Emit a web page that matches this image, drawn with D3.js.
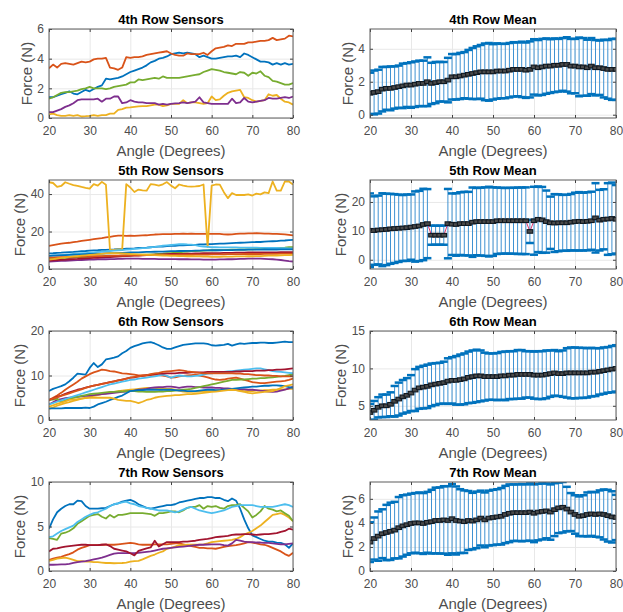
<!DOCTYPE html>
<html>
<head>
<meta charset="utf-8">
<script src="https://cdn.jsdelivr.net/npm/d3@7"></script>
<style>
  body { margin: 0; background: #fff; }
  svg { display: block; font-family: "Liberation Sans", Arial, Helvetica, sans-serif; }
</style>
</head>
<body>
<svg id="chart" width="623" height="612"></svg>
<script>
// x 값 (각도, 1도 간격)
const angles = d3.range(20, 81);
const xTicks = [20, 30, 40, 50, 60, 70, 80];
const matlabColors = ["#0072BD", "#D95319", "#EDB120", "#7E2F8E", "#77AC30", "#4DBEEE", "#A2142F"];

// ---- 4th row sensors
const s4Blue = [1.40,1.40,1.50,1.60,1.70,1.80,1.65,1.60,1.75,1.90, 1.80,1.95,2.10,2.20,2.65,2.60,2.65,2.70,2.80,2.95, 3.10,3.20,3.30,3.40,3.55,3.75,3.85,4.00,4.05,4.15, 4.30,4.35,4.40,4.35,4.40,4.35,4.30,4.10,4.20,4.10, 4.00,4.00,4.05,4.10,4.15,4.15,4.20,4.10,4.35,4.25, 4.10,3.95,3.80,3.80,3.75,3.60,3.70,3.60,3.70,3.60, 3.65];
const s4Orange = [3.35,3.60,3.40,3.65,3.70,3.65,3.60,3.70,3.80,3.75, 3.80,3.95,4.00,4.00,4.05,3.40,3.35,3.25,3.40,4.10, 4.05,4.10,4.10,4.15,4.25,4.30,4.35,4.40,4.45,4.50, 4.35,4.25,4.20,4.20,4.35,4.30,4.30,4.30,4.40,4.25, 4.50,4.70,4.75,4.80,4.90,4.85,5.00,5.00,5.00,5.10, 5.10,5.15,5.20,5.20,5.25,5.40,5.25,5.30,5.35,5.55, 5.50];
const s4Yellow = [0.25,0.30,0.20,0.15,0.15,0.20,0.15,0.20,0.10,0.12, 0.15,0.20,0.15,0.20,0.20,0.30,0.30,0.55,0.60,0.70, 0.72,0.75,0.78,0.80,0.80,0.85,0.90,0.90,0.80,0.85, 0.95,0.95,0.95,1.20,1.00,1.05,1.05,1.00,0.95,1.00, 1.45,1.20,1.25,1.50,1.70,1.80,1.85,1.90,1.40,1.35, 1.20,1.10,1.15,1.20,1.60,1.50,1.55,1.30,1.10,1.05, 0.90];
const s4Purple = [0.40,0.40,0.50,0.60,0.75,0.85,1.00,1.20,1.25,1.25, 1.25,1.25,1.30,1.10,1.30,1.30,1.45,1.45,1.00,1.05, 1.20,1.10,1.05,1.05,1.00,1.00,1.00,0.90,0.95,0.90, 0.95,0.98,1.00,1.05,1.00,1.05,1.10,1.40,1.05,1.00, 0.95,0.95,0.95,0.95,0.95,1.30,1.00,1.05,1.35,1.10, 1.05,1.10,1.15,1.20,1.35,1.30,1.30,1.35,1.40,1.35, 1.45];
const s4Green = [1.30,1.40,1.55,1.70,1.75,1.75,1.80,1.85,1.95,2.00, 2.10,2.00,2.00,2.00,1.95,2.00,2.10,2.15,2.20,2.25, 2.40,2.40,2.60,2.55,2.60,2.65,2.70,2.65,2.80,2.70, 2.70,2.70,2.70,2.75,2.80,2.85,2.90,2.95,3.10,3.20, 3.30,3.25,3.20,3.10,3.05,3.00,2.95,3.10,3.05,2.85, 3.05,3.00,3.15,2.85,2.75,2.50,2.45,2.35,2.25,2.25, 2.35];

// ---- 5th row sensors
const s5Blue = [8.3,8.4,8.6,8.7,8.9,9.0,9.1,9.3,9.5,9.6, 9.8,9.9,10.0,10.2,10.2,10.3,10.4,10.6,10.6,10.8, 10.9,11.0,11.2,11.3,11.4,11.6,11.8,11.9,12.0,12.2, 12.3,12.4,12.6,12.6,12.7,12.8,12.9,13.1,13.1,13.2, 13.3,13.4,13.5,13.5,13.7,13.8,13.9,14.0,14.1,14.2, 14.3,14.4,14.4,14.6,14.7,14.8,14.9,15.1,15.2,15.4, 15.5];
const s5Orange = [12.3,12.7,13.1,13.5,13.8,14.0,14.3,14.6,15.0,15.3, 15.6,15.9,16.2,16.5,16.9,17.2,17.6,17.8,17.8,17.7, 17.8,17.7,17.8,17.9,18.0,18.2,18.4,18.5,18.6,18.6, 18.6,18.7,18.8,18.9,18.8,18.9,18.8,18.7,18.8,18.7, 18.8,18.8,18.7,18.5,18.4,18.5,18.8,18.9,18.9,19.0, 19.0,19.1,19.0,18.9,18.9,18.8,18.7,18.6,18.5,18.2, 17.9];
const s5Yellow = [46.3,45.9,43.8,44.3,46.3,45.5,44.8,44.4,43.8,43.3, 42.9,45.3,44.5,46.5,45.0,10.0,10.2,10.4,10.5,45.3, 43.5,41.1,42.4,42.0,41.8,45.3,45.0,44.5,45.2,46.4, 44.5,43.1,45.1,44.5,44.1,44.0,44.1,44.3,45.1,11.8, 44.5,45.1,45.0,41.0,37.8,40.5,39.5,39.6,39.5,39.8, 39.2,40.2,39.8,40.9,40.5,46.7,41.8,41.8,46.7,46.7, 45.1];
const s5Purple = [4.0,4.1,4.2,4.3,4.4,4.5,4.6,4.7,4.8,4.9, 5.0,5.0,5.1,5.2,5.2,5.3,5.3,5.4,5.4,5.5, 5.5,5.5,5.5,5.4,5.4,5.4,5.4,5.3,5.3,5.3, 5.3,5.3,5.2,5.2,5.2,5.1,5.1,5.1,5.0,5.0, 5.0,5.0,5.1,5.1,5.2,5.2,5.3,5.4,5.4,5.5, 5.5,5.5,5.5,5.4,5.3,5.2,5.0,4.8,4.5,4.2, 4.0];
const s5Green = [5.5,5.6,5.7,5.8,5.9,6.0,6.1,6.2,6.3,6.4, 6.5,6.6,6.6,6.7,6.8,6.9,7.0,7.0,7.1,7.2, 7.3,7.4,7.5,7.6,7.7,7.8,7.9,8.1,8.2,8.4, 8.5,8.7,8.9,9.1,9.3,9.5,9.6,9.7,9.8,9.9, 10.0,10.0,10.1,10.1,10.2,10.3,10.3,10.4,10.4,10.5, 10.5,10.6,10.7,10.8,10.9,11.0,11.2,11.3,11.4,11.6, 11.7];
const s5LightBlue = [7.0,7.2,7.3,7.5,7.6,7.8,8.0,8.2,8.4,8.5, 8.7,8.9,9.1,9.3,9.4,9.6,9.8,10.0,10.1,10.3, 10.5,10.7,10.9,11.1,11.3,11.6,11.8,12.1,12.4,12.6, 12.8,13.0,13.2,13.3,13.1,13.0,12.7,12.2,12.0,11.8, 11.6,11.6,11.5,11.5,11.5,11.5,11.5,11.4,11.4,11.4, 11.4,11.4,11.3,11.3,11.2,11.2,11.2,11.1,11.1,11.0, 11.0];
const s5DarkRed = [4.5,4.6,4.8,4.9,5.0,5.2,5.3,5.4,5.6,5.7, 5.8,5.9,6.0,6.2,6.3,6.4,6.5,6.6,6.8,6.9, 7.0,7.1,7.2,7.3,7.4,7.5,7.6,7.7,7.8,7.9, 8.0,8.0,8.1,8.1,8.2,8.2,8.3,8.3,8.4,8.4, 8.5,8.5,8.5,8.6,8.6,8.6,8.7,8.7,8.7,8.8, 8.8,8.8,8.8,8.9,8.9,8.9,8.9,9.0,9.0,9.0, 9.0];
const s5Blue2 = [7.0,7.1,7.2,7.3,7.4,7.5,7.6,7.7,7.8,7.9, 8.0,8.1,8.2,8.2,8.3,8.4,8.5,8.6,8.6,8.7, 8.8,8.9,8.9,9.0,9.1,9.1,9.2,9.3,9.3,9.4, 9.5,9.5,9.6,9.6,9.7,9.7,9.8,9.8,9.9,9.9, 10.0,10.0,10.0,10.1,10.1,10.1,10.2,10.2,10.2,10.3, 10.3,10.3,10.3,10.4,10.4,10.4,10.4,10.5,10.5,10.5, 10.5];
const s5Orange2 = [6.0,6.1,6.2,6.3,6.3,6.4,6.5,6.6,6.6,6.7, 6.8,6.8,6.9,6.9,7.0,7.0,7.1,7.1,7.2,7.2, 7.3,7.3,7.3,7.4,7.4,7.4,7.4,7.5,7.5,7.5, 7.5,7.5,7.6,7.6,7.6,7.6,7.7,7.7,7.7,7.7, 7.8,7.8,7.8,7.8,7.9,7.9,7.9,7.9,8.0,8.0, 8.0,8.0,8.0,8.1,8.1,8.1,8.1,8.2,8.2,8.2, 8.2];
const s5Yellow2 = [5.0,5.3,5.6,5.9,6.2,6.5,6.7,6.9,7.1,7.3, 7.5,7.7,7.9,8.1,8.3,8.5,8.4,8.4,8.3,8.2, 8.0,7.9,7.8,7.7,7.6,7.5,7.4,7.3,7.2,7.1, 7.0,7.0,6.9,6.9,6.8,6.8,6.7,6.7,6.6,6.6, 6.5,6.5,6.5,6.6,6.6,6.6,6.7,6.7,6.7,6.8, 6.8,6.9,6.9,7.0,7.1,7.1,7.2,7.3,7.4,7.4, 7.5];

// ---- 6th row sensors
const s6Blue = [6.5,7.0,7.3,7.6,8.0,8.7,9.5,10.4,10.3,10.2, 11.7,12.8,11.9,12.5,13.6,13.8,14.0,14.3,15.0,15.5, 16.2,16.6,16.9,17.2,17.4,17.5,17.2,16.8,16.3,16.0, 16.0,16.3,16.6,16.9,17.0,17.1,17.2,17.2,17.2,17.1, 16.8,16.7,16.8,16.9,17.1,16.7,17.0,17.2,17.1,17.2, 17.3,17.3,17.4,17.4,17.3,17.3,17.4,17.5,17.6,17.5, 17.5];
const s6Orange = [4.5,5.0,5.5,6.1,6.8,7.4,8.0,8.6,9.3,9.8, 10.3,10.7,11.0,11.3,11.2,11.0,10.9,10.7,10.5,10.4, 10.3,10.2,10.0,10.0,10.0,10.1,10.2,10.1,10.0,9.8, 9.5,9.6,9.8,9.9,10.0,10.1,10.2,10.0,9.8,9.6, 9.3,9.1,9.0,9.1,9.3,9.4,9.5,9.3,9.0,8.8, 8.5,8.4,8.3,8.3,8.4,8.5,8.6,8.7,8.8,9.0, 9.3];
const s6Yellow = [2.5,2.8,3.2,3.5,3.8,4.0,4.3,4.5,4.8,5.0, 5.2,5.4,5.6,5.8,6.0,6.2,6.3,6.5,6.6,6.7, 6.8,6.9,7.0,7.1,7.2,7.2,7.2,7.1,7.1,7.0, 7.0,6.8,6.6,6.4,6.3,6.3,6.4,6.4,6.5,6.5, 6.5,6.6,6.7,6.7,6.8,6.8,6.7,6.6,6.5,6.5, 6.5,6.6,6.6,6.7,6.7,6.8,6.8,6.9,6.9,7.0, 7.0];
const s6Purple = [3.5,4.0,4.5,4.7,4.9,5.0,5.1,5.2,5.3,5.4, 5.5,5.6,5.7,5.8,5.9,6.0,6.1,6.2,6.3,6.4, 6.5,6.6,6.8,6.9,7.0,7.2,7.3,7.4,7.4,7.5, 7.5,7.4,7.2,7.4,7.5,7.5,7.4,7.4,7.3,7.3, 7.3,7.2,7.2,7.1,7.1,7.0,7.0,6.9,6.9,6.8, 6.8,6.7,6.6,6.5,6.4,6.3,6.4,6.6,6.8,7.1, 7.5];
const s6Green = [4.5,4.6,4.8,4.0,4.4,4.8,5.0,5.2,5.4,5.6, 5.8,5.9,6.0,6.1,6.2,6.3,6.3,6.4,6.4,6.5, 6.5,6.5,6.4,6.4,6.3,6.3,6.3,6.4,6.4,6.5, 6.5,6.6,6.7,6.8,6.9,7.0,7.2,7.4,7.6,7.8, 8.0,8.2,8.4,8.6,8.8,9.0,9.0,9.1,9.1,9.2, 9.3,9.3,9.4,9.4,9.5,9.6,9.7,9.8,9.9,10.1, 10.3];
const s6LightBlue = [3.5,3.8,4.1,4.4,4.7,5.0,5.3,5.6,5.9,6.2, 6.5,6.8,7.1,7.4,7.7,8.0,8.2,8.4,8.6,8.8, 9.0,9.1,9.3,9.4,9.5,9.7,9.8,10.0,10.2,9.9, 9.5,9.8,10.0,9.9,9.8,9.8,9.9,10.0,10.2,10.4, 10.5,10.6,10.7,10.8,10.9,11.0,11.1,11.2,11.3,11.4, 11.5,11.6,11.6,11.4,11.2,11.0,10.9,10.8,10.7,10.6, 10.5];
const s6DarkRed = [4.5,4.8,5.2,5.5,5.9,6.2,6.5,6.8,7.0,7.3, 7.5,7.7,7.9,8.1,8.3,8.5,8.7,8.9,9.1,9.3, 9.5,9.6,9.8,9.9,10.1,10.2,10.3,10.4,10.4,10.5, 10.5,10.5,10.6,10.6,10.6,10.7,10.7,10.7,10.7,10.8, 10.8,10.8,10.8,10.8,10.8,10.8,10.9,10.9,11.0,11.0, 11.0,11.1,11.1,11.1,11.2,11.2,11.3,11.3,11.4,11.5, 11.6];
const s6Blue2 = [2.6,2.6,2.6,2.6,2.7,2.7,2.7,2.7,2.7,2.8, 2.7,3.0,3.5,3.8,4.1,4.5,4.8,5.2,5.5,6.0, 6.5,6.6,6.7,6.7,6.8,6.8,6.8,6.8,6.8,6.8, 6.8,6.7,6.6,6.6,6.5,6.5,6.5,6.6,6.7,6.8, 6.8,6.7,6.7,6.8,6.9,7.0,7.1,7.2,7.3,7.4, 7.5,7.5,7.6,7.7,7.7,7.8,7.8,7.7,7.6,7.4, 7.2];
const s6Orange2 = [4.5,4.8,5.1,5.4,5.7,6.0,6.3,6.6,6.9,7.2, 7.5,7.7,7.9,8.1,8.3,8.5,8.7,8.9,9.1,9.3, 9.5,9.7,9.8,10.0,10.1,10.3,10.5,10.6,10.8,10.9, 11.0,11.1,11.2,11.1,10.9,10.8,10.7,10.6,10.5,10.5, 10.5,10.5,10.5,10.5,10.5,10.5,10.4,10.4,10.3,10.3, 10.2,10.1,10.1,10.0,10.0,9.9,9.9,9.8,9.8,9.8, 9.8];
const s6Yellow2 = [3.0,3.3,3.6,3.9,4.2,4.5,4.6,4.7,4.8,4.9, 5.0,5.0,5.0,5.0,5.0,5.0,4.8,4.5,4.4,4.3, 4.3,4.1,3.8,4.1,4.5,4.7,5.0,5.2,5.3,5.4, 5.5,5.6,5.6,5.7,5.8,5.8,5.9,6.0,6.1,6.2, 6.3,6.4,6.5,6.6,6.7,6.8,6.7,6.5,6.3,6.1, 6.0,6.1,6.2,6.3,6.4,6.5,6.8,7.2,7.6,7.8, 8.0];

// ---- 7th row sensors
const s7Blue = [4.75,5.8,6.6,7.0,7.3,7.5,7.5,7.9,7.85,7.3, 7.0,7.0,7.0,7.05,7.1,7.3,7.5,7.6,7.8,7.9, 8.0,7.8,7.5,7.3,7.1,7.0,7.1,7.2,7.3,7.4, 7.4,7.5,7.7,7.8,7.9,8.0,8.1,8.2,8.2,8.3, 8.3,8.2,8.2,8.0,7.85,8.15,7.9,7.0,5.8,4.8, 4.0,3.8,3.6,3.4,3.3,3.3,3.2,3.15,3.0,2.6, 3.1];
const s7Orange = [1.25,1.4,1.5,1.6,1.75,1.9,2.1,2.4,2.6,2.75, 2.9,2.9,2.9,2.95,2.95,2.95,2.95,3.0,3.05,3.1, 3.15,3.1,3.0,2.95,2.95,2.95,3.0,3.0,3.0,3.0, 3.05,3.1,3.1,3.0,2.9,2.8,2.7,2.6,2.6,2.55, 2.55,2.5,2.6,2.7,2.8,2.85,2.9,3.0,3.1,3.25, 3.2,3.1,3.0,2.95,2.8,2.6,2.4,2.2,1.9,1.7, 2.05];
const s7Yellow = [1.13,1.25,1.4,1.45,1.5,1.4,1.25,1.1,1.1,1.05, 1.05,1.0,1.0,0.95,0.9,0.9,0.87,0.88,0.9,0.95, 1.05,1.1,1.13,1.3,1.5,1.7,1.85,2.05,2.2,2.5, 2.6,2.75,2.9,2.9,2.95,2.95,2.95,2.95,3.0,3.1, 3.25,3.3,3.35,3.4,3.45,3.5,3.6,3.8,4.1,4.3, 4.5,4.8,5.1,5.5,5.9,6.3,6.4,6.5,6.3,6.0, 5.6];
const s7Purple = [0.7,0.7,0.72,0.74,0.75,0.8,0.9,1.0,1.05,1.1, 1.2,1.3,1.4,1.5,1.65,1.8,1.95,2.0,2.0,2.0, 2.0,2.0,2.05,2.1,2.15,2.2,2.3,2.4,2.5,2.55, 2.6,2.65,2.7,2.75,2.8,2.85,2.9,2.95,2.95,2.98, 3.0,3.0,3.0,2.9,2.85,3.1,3.5,3.4,3.3,3.25, 3.25,3.2,3.2,3.15,3.15,3.1,3.05,3.0,3.0,3.05, 3.1];
const s7Green = [3.7,3.6,3.5,4.2,4.3,4.5,4.8,5.3,5.6,5.9, 6.2,6.3,6.4,6.1,5.9,6.3,6.0,6.3,6.3,6.4, 6.5,6.5,6.5,6.5,6.45,6.4,6.2,6.5,6.5,6.6, 6.7,6.7,6.6,6.8,7.1,7.2,7.2,7.4,7.0,7.3, 7.2,7.3,7.1,7.0,7.3,7.4,7.4,7.5,7.1,6.7, 6.0,6.3,6.7,7.3,7.0,6.9,6.7,6.8,6.5,6.2, 5.6];
const s7LightBlue = [3.8,3.9,4.2,4.5,4.7,4.9,5.1,5.5,5.8,6.1, 6.3,6.5,6.6,6.8,7.0,7.3,7.5,7.6,7.7,7.8, 7.6,7.5,7.3,7.2,7.1,7.0,6.9,6.8,6.8,6.8, 6.7,6.6,6.7,6.9,7.1,7.2,7.0,6.8,6.7,6.6, 6.5,6.6,6.7,6.8,7.0,7.2,7.3,7.4,7.4,7.4, 7.4,7.3,7.2,7.2,7.2,7.2,7.3,7.4,7.5,7.4, 7.2];
const s7DarkRed = [2.2,2.5,2.55,2.65,2.75,2.8,2.85,2.9,2.95,2.95, 2.9,2.9,2.9,2.95,3.0,2.8,2.5,2.4,2.3,2.2, 2.0,1.75,2.25,2.4,2.55,2.65,3.4,2.75,3.0,3.25, 3.25,3.25,3.25,3.3,3.3,3.35,3.4,3.5,3.55,3.6, 3.7,3.8,3.85,3.9,3.95,4.05,4.1,4.1,4.15,4.15, 4.1,4.05,4.1,4.15,4.15,4.2,4.25,4.4,4.5,4.75, 4.65];

// ---- row means and standard deviations
const mean4 = [1.30,1.35,1.40,1.55,1.60,1.60,1.65,1.70,1.75,1.80, 1.80,1.85,1.90,1.90,2.00,1.90,1.95,2.00,2.00,2.10, 2.30,2.30,2.35,2.40,2.45,2.50,2.55,2.60,2.60,2.60, 2.60,2.65,2.65,2.65,2.70,2.75,2.75,2.75,2.70,2.75, 2.90,2.85,2.90,2.95,2.95,3.00,3.00,3.05,3.05,2.95, 2.95,2.90,2.90,2.85,2.95,2.85,2.85,2.80,2.75,2.75, 2.75];
const sd4 = [1.25,1.33,1.33,1.35,1.30,1.33,1.28,1.28,1.35,1.33, 1.38,1.38,1.38,1.38,1.48,1.25,1.25,1.20,1.20,1.35, 1.38,1.38,1.40,1.40,1.48,1.55,1.60,1.63,1.72,1.75, 1.68,1.68,1.65,1.65,1.65,1.65,1.63,1.68,1.68,1.70, 1.68,1.68,1.70,1.68,1.63,1.63,1.60,1.60,1.65,1.65, 1.65,1.78,1.75,1.70,1.70,1.68,1.65,1.75,1.78,1.85, 1.85];
const mean5 = [10.2,10.1,10.3,10.4,10.5,10.7,10.8,10.9,11.0,11.1, 11.3,11.5,11.7,12.2,12.5,8.5,8.5,8.5,8.5,12.5, 12.3,12.2,12.5,12.5,12.5,13.0,13.2,13.2,13.2,13.2, 13.2,13.5,13.5,13.5,13.5,13.5,13.5,13.5,13.5,9.8, 13.5,14.0,13.8,13.2,12.8,12.7,12.8,12.8,12.8,13.0, 13.2,13.3,13.2,13.3,13.5,14.5,13.7,14.0,14.1,14.3, 14.0];
const sd5 = [12.75,11.85,11.9,12.6,12.35,12.1,11.9,11.65,11.4,11.5, 11.3,12.15,12.15,12.35,11.95,3.3,3.3,3.3,3.3,12.0, 10.65,10.8,10.85,11.0,11.0,12.0,11.65,11.75,11.85,12.05, 11.85,11.5,11.4,11.35,11.4,11.4,11.5,11.5,11.55,4.0, 11.75,11.35,11.4,10.75,9.05,10.0,9.85,9.65,9.7,9.75, 10.0,10.1,10.0,10.05,10.05,12.0,10.5,10.4,12.4,12.4, 11.85];
const mean6 = [4.1,4.4,4.8,5.0,5.0,5.2,5.6,5.9,6.2,6.4, 6.7,7.1,7.4,7.5,7.6,7.8,7.9,8.0,8.1,8.3, 8.4,8.4,8.5,8.6,8.8,8.9,9.0,9.0,8.9,8.9, 8.9,8.9,9.0,9.0,9.1,9.1,9.2,9.2,9.2,9.2, 9.1,9.1,9.1,9.2,9.3,9.4,9.3,9.3,9.4,9.4, 9.4,9.4,9.4,9.4,9.5,9.5,9.6,9.7,9.8,9.9, 10.0];
const sd6 = [1.15,1.25,1.35,1.5,1.5,1.6,2.05,2.2,2.25,2.3, 2.4,2.8,2.8,2.85,2.9,2.85,2.8,2.75,2.8,3.05, 3.1,3.25,3.35,3.4,3.45,3.5,3.5,3.4,3.2,3.1, 3.1,3.15,3.2,3.25,3.2,3.2,3.25,3.25,3.1,3.1, 3.15,3.2,3.2,3.2,3.1,3.05,3.0,3.1,3.3,3.4, 3.4,3.35,3.35,3.3,3.25,3.2,3.1,3.1,3.05,3.1, 3.1];
const mean7 = [2.4,2.7,2.9,3.1,3.2,3.3,3.4,3.6,3.75,3.85, 3.95,4.0,4.0,3.95,4.05,4.1,4.2,4.2,4.25,4.2, 4.35,4.2,4.15,4.1,4.2,4.15,4.25,4.4,4.25,4.4, 4.45,4.5,4.55,4.7,4.8,4.85,4.85,4.85,4.85,4.9, 4.8,4.9,4.95,5.0,4.9,5.1,5.25,5.3,5.15,4.9, 4.7,4.55,4.6,4.7,4.75,4.7,4.75,4.7,4.6,4.5, 4.45];
const sd7 = [1.65,1.75,2.05,2.03,2.3,2.38,2.35,2.55,2.55,2.5, 2.48,2.48,2.53,2.53,2.53,2.65,2.73,2.75,2.8,2.85, 2.88,2.83,2.65,2.6,2.45,2.35,2.35,2.28,2.28,2.28, 2.3,2.3,2.35,2.38,2.4,2.35,2.35,2.38,2.35,2.38, 2.4,2.35,2.33,2.28,2.3,2.2,2.1,2.1,1.85,1.58, 1.6,1.65,1.7,1.83,1.83,1.85,1.95,2.08,2.15,2.13, 1.88];

const rowNames = ["4th", "5th", "6th", "7th"];
const rowSensors = [
    [s4Blue, s4Orange, s4Yellow, s4Purple, s4Green],
    [s5Blue, s5Orange, s5Yellow, s5Purple, s5Green, s5LightBlue, s5DarkRed, s5Blue2, s5Orange2, s5Yellow2],
    [s6Blue, s6Orange, s6Yellow, s6Purple, s6Green, s6LightBlue, s6DarkRed, s6Blue2, s6Orange2, s6Yellow2],
    [s7Blue, s7Orange, s7Yellow, s7Purple, s7Green, s7LightBlue, s7DarkRed]
];
const rowMeans = [mean4, mean5, mean6, mean7];
const rowSds = [sd4, sd5, sd6, sd7];
const sensorYDomains = [[0, 6], [0, 47.5], [0, 20], [0, 10]];
const sensorYTicks = [[0, 2, 4, 6], [0, 20, 40], [0, 10, 20], [0, 5, 10]];
const meanYDomains = [[-0.2, 5.2], [-3.2, 27.6], [3.1, 15], [0, 7.4]];
const meanYTicks = [[0, 2, 4], [0, 10, 20], [5, 10, 15], [0, 2, 4, 6]];

// 레이아웃
const COLS = [{ x0: 49, w: 244 }, { x0: 370, w: 246 }];
const ROW_TOP = 29, ROW_STEP = 151, PLOT_H = 89;
const TEXT_GREY = "#4d4d4d";
const GRID = "#e8e8e8";

const svg = d3.select("#chart");
svg.append("rect").attr("width", 623).attr("height", 612).attr("fill", "#fff");

let clipId = 0;

// 축/그리드/박스 공통 프레임
function makePanel(col, row, yDomain, yTicks, title) {
    const { x0, w } = COLS[col];
    const h = PLOT_H;
    const g = svg.append("g").attr("transform", `translate(${x0},${ROW_TOP + ROW_STEP * row})`);
    const x = d3.scaleLinear().domain([20, 80]).range([0, w]);
    const y = d3.scaleLinear().domain(yDomain).range([h, 0]);

    // grid
    g.append("g").attr("class", "grid").attr("transform", `translate(0,${h})`)
        .call(d3.axisBottom(x).tickValues(xTicks).tickSize(-h).tickFormat(""))
        .call(s => s.select(".domain").remove())
        .call(s => s.selectAll("line").attr("stroke", GRID));
    g.append("g").attr("class", "grid")
        .call(d3.axisLeft(y).tickValues(yTicks).tickSize(-w).tickFormat(""))
        .call(s => s.select(".domain").remove())
        .call(s => s.selectAll("line").attr("stroke", GRID));

    const id = "clip" + (clipId++);
    g.append("clipPath").attr("id", id).append("rect").attr("width", w).attr("height", h);
    const plot = g.append("g").attr("clip-path", `url(#${id})`);

    return { g, plot, x, y, w, h, yTicks, title };
}

function finishPanel(p) {
    const { g, x, y, w, h } = p;
    const fmt = d3.format("d");
    const xa = g.append("g").attr("transform", `translate(0,${h})`)
        .call(d3.axisBottom(x).tickValues(xTicks).tickFormat(fmt).tickSizeInner(-3).tickSizeOuter(0).tickPadding(8));
    const ya = g.append("g")
        .call(d3.axisLeft(y).tickValues(p.yTicks).tickFormat(fmt).tickSizeInner(-3).tickSizeOuter(0).tickPadding(5));
    const xt = g.append("g").call(d3.axisTop(x).tickValues(xTicks).tickSizeInner(-3).tickSizeOuter(0).tickFormat(""));
    const yr = g.append("g").attr("transform", `translate(${w},0)`)
        .call(d3.axisRight(y).tickValues(p.yTicks).tickSizeInner(-3).tickSizeOuter(0).tickFormat(""));

    [xa, ya, xt, yr].forEach(a => {
        a.select(".domain").remove();
        a.selectAll(".tick line").attr("stroke", "#404040");
    });
    [xa, ya].forEach(a => a.selectAll("text")
        .attr("font-size", 12).attr("fill", TEXT_GREY).attr("font-family", null));

    g.append("rect").attr("width", w).attr("height", h)
        .attr("fill", "none").attr("stroke", "#5c5c5c").attr("stroke-width", 1);

    let maxW = 0;
    ya.selectAll("text").each(function () { maxW = Math.max(maxW, this.getComputedTextLength()); });

    g.append("text").attr("x", w / 2).attr("y", -5.5)
        .attr("text-anchor", "middle").attr("font-size", 13).attr("font-weight", "bold")
        .attr("fill", "#000").text(p.title);
    g.append("text").attr("x", w / 2).attr("y", h + 38)
        .attr("text-anchor", "middle").attr("font-size", 15).attr("fill", TEXT_GREY)
        .text("Angle (Degrees)");
    g.append("text")
        .attr("transform", `translate(${-(5 + maxW + 11)},${h / 2}) rotate(-90)`)
        .attr("dy", "0.35em").attr("text-anchor", "middle").attr("font-size", 15).attr("fill", TEXT_GREY)
        .text("Force (N)");
}

function drawSensors(row) {
    const p = makePanel(0, row, sensorYDomains[row], sensorYTicks[row], rowNames[row] + " Row Sensors");
    const line = d3.line().x((d, i) => p.x(angles[i])).y(d => p.y(d));
    rowSensors[row].forEach((series, k) => {
        p.plot.append("path").datum(series)
            .attr("d", line)
            .attr("fill", "none")
            .attr("stroke", matlabColors[k % matlabColors.length])
            .attr("stroke-width", 1.8)
            .attr("stroke-linejoin", "round");
    });
    finishPanel(p);
}

function drawMean(row) {
    const p = makePanel(1, row, meanYDomains[row], meanYTicks[row], rowNames[row] + " Row Mean");
    const mean = rowMeans[row], sd = rowSds[row];
    const pts = angles.map((a, i) => ({ a, m: mean[i], s: sd[i] }));
    const CAP = 4;

    p.plot.selectAll(".eb").data(pts).join("line")
        .attr("class", "eb")
        .attr("x1", d => p.x(d.a)).attr("x2", d => p.x(d.a))
        .attr("y1", d => p.y(d.m - d.s)).attr("y2", d => p.y(d.m + d.s))
        .attr("stroke", "#3f92d2").attr("stroke-width", 1);

    ["hi", "lo"].forEach(side => {
        p.plot.selectAll(".cap-" + side).data(pts).join("line")
            .attr("class", "cap-" + side)
            .attr("x1", d => p.x(d.a) - CAP).attr("x2", d => p.x(d.a) + CAP)
            .attr("y1", d => p.y(side === "hi" ? d.m + d.s : d.m - d.s))
            .attr("y2", d => p.y(side === "hi" ? d.m + d.s : d.m - d.s))
            .attr("stroke", "#0072BD").attr("stroke-width", 2.5);
    });

    p.plot.append("path").datum(pts)
        .attr("d", d3.line().x(d => p.x(d.a)).y(d => p.y(d.m)))
        .attr("fill", "none").attr("stroke", "#e0356e").attr("stroke-width", 1);

    p.plot.selectAll(".mk").data(pts).join("rect")
        .attr("class", "mk")
        .attr("x", d => p.x(d.a) - 2.8).attr("y", d => p.y(d.m) - 1.8)
        .attr("width", 5.6).attr("height", 3.6)
        .attr("fill", "#4a4a4a").attr("stroke", "#101820").attr("stroke-width", 1.1);

    finishPanel(p);
}

for (let r = 0; r < 4; r++) {
    drawSensors(r);
    drawMean(r);
}
</script>
</body>
</html>
